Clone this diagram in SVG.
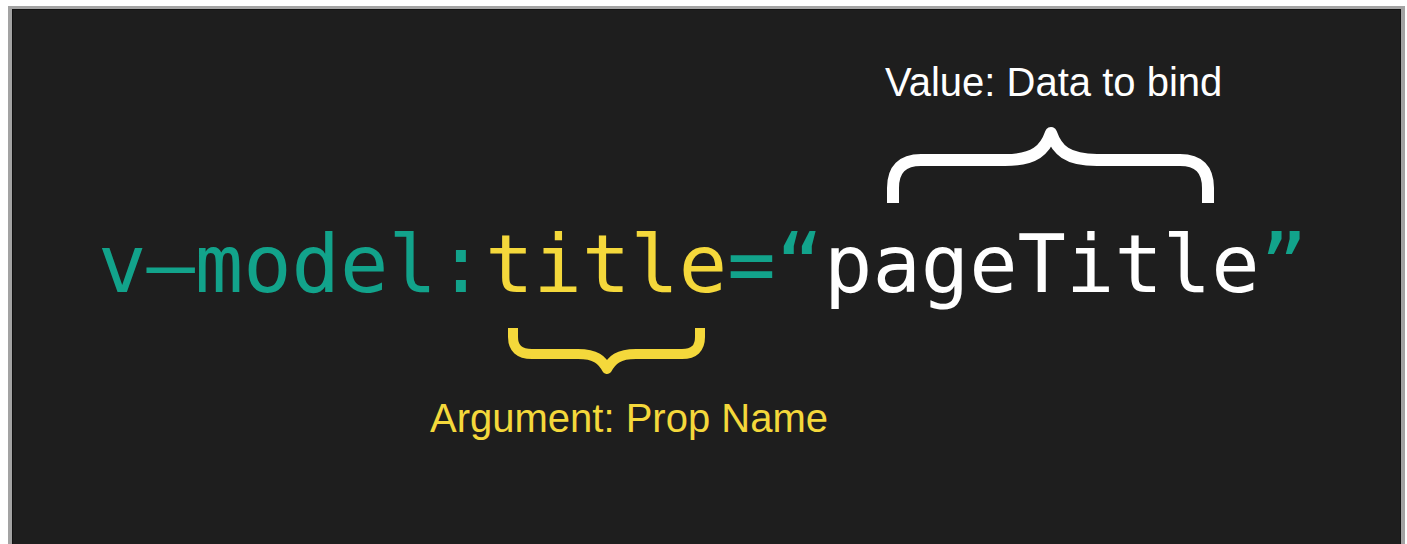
<svg xmlns="http://www.w3.org/2000/svg" width="1407" height="544" viewBox="0 0 1407 544">
  <style>
    .code { font-family: "DejaVu Sans Mono", "Liberation Mono", monospace; font-size: 80.4px; }
    .teal { fill: #12a38b; }
    .yellow { fill: #f4d83b; }
    .white { fill: #ffffff; }
    .label { font-family: "Liberation Sans", Arial, sans-serif; font-size: 40px; }
    .brace { fill: none; stroke-linejoin: round; stroke-linecap: butt; }
  </style>

  <!-- page frame -->
  <rect x="0" y="0" width="1407" height="544" fill="#ffffff"/>
  <rect x="8" y="6" width="1397" height="540" fill="#a3a3a3"/>
  <rect x="12" y="9" width="1389" height="537" fill="#111111"/>
  <rect x="13" y="10" width="1387" height="536" fill="#1e1e1e"/>

  <!-- directive expression -->
  <g id="expression">
    <text class="code" x="98" y="292"><tspan class="teal">v–model:</tspan><tspan class="yellow">title</tspan><tspan class="teal">=“</tspan><tspan class="white">pageTitle</tspan><tspan class="teal">”</tspan></text>
  </g>

  <g id="connectors">
    <!-- brace over the value -->
    <path class="brace" stroke="#ffffff" stroke-width="12"
          d="M893,203 V188 Q893,160 921,160 H1005 C1035,160 1045,150 1051,133 C1057,150 1067,160 1097,160 H1180 Q1208,160 1208,188 V203"/>
    <!-- brace under the argument -->
    <path class="brace" stroke="#f4d83b" stroke-width="10"
          d="M513,328 V337 Q513,354 532,354 H578 C596,354 602,360 607,369 C612,360 618,354 636,354 H682 Q700,354 700,337 V328"/>
  </g>

  <g id="value-label">
    <text class="label white" x="885" y="96">Value: Data to bind</text>
  </g>

  <g id="argument-label">
    <text class="label yellow" x="430" y="432">Argument: Prop Name</text>
  </g>
</svg>
